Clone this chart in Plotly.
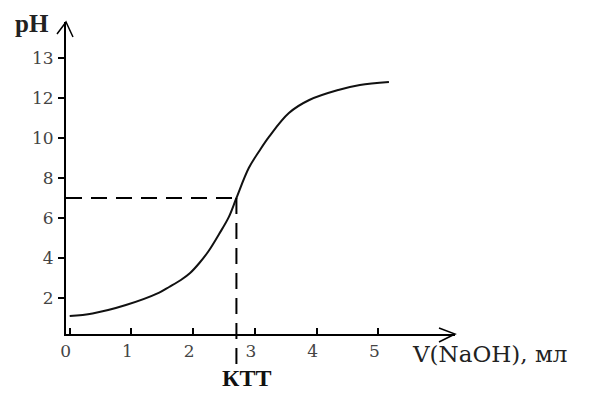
import plotly.graph_objects as go

# Titration curve data
v_naoh = [0, 0.37, 0.91, 1.45, 1.61, 1.8, 1.95, 2.1, 2.25, 2.42, 2.58, 2.7, 2.9, 3.07, 3.23, 3.55, 3.88, 4.35, 4.7, 5.17]
ph = [1.1, 1.23, 1.65, 2.27, 2.55, 2.9, 3.25, 3.75, 4.35, 5.2, 6.07, 7.0, 8.5, 9.35, 10.07, 11.25, 11.9, 12.4, 12.65, 12.8]

# equivalence point (КТТ)
v_eq = 2.7
ph_eq = 7.0

x_tickvals = [0, 1, 2, 3, 4, 5]
x_ticktext = ["0", "1", "2", "3", "4", "5"]
y_tickvals = [2, 4, 6, 8, 10, 12, 14]
y_ticktext = ["2", "4", "6", "8", "10", "12", "13"]

x_range = [-0.06, 6.24]
y_range = [0.2, 15.8]

tick_font = dict(family="DejaVu Serif", size=17, color="#444")

fig = go.Figure()
fig.add_trace(go.Scatter(
    x=v_naoh, y=ph, mode="lines",
    line=dict(color="#111", width=2, shape="spline", smoothing=1.0),
    hoverinfo="skip", showlegend=False,
))

dash = "16px,9px"
# horizontal dashed line to equivalence point
fig.add_shape(type="line", xref="x", yref="y", x0=x_range[0], x1=v_eq, y0=ph_eq, y1=ph_eq,
              line=dict(color="black", width=2, dash=dash))
# vertical dashed line down below axis
ph_eq_paper = (ph_eq - y_range[0]) / (y_range[1] - y_range[0])
fig.add_shape(type="line", xref="x", yref="paper", x0=v_eq, x1=v_eq, y0=ph_eq_paper, y1=-0.12,
              line=dict(color="black", width=2, dash=dash))

# open arrow heads on the axes
fig.add_shape(type="path", xref="paper", yref="paper", xsizemode="pixel", ysizemode="pixel",
              xanchor=0, yanchor=1,
              path="M -9,-12 L 0,0 L 7,-15", line=dict(color="black", width=1.5))
fig.add_shape(type="path", xref="paper", yref="paper", xsizemode="pixel", ysizemode="pixel",
              xanchor=1, yanchor=0,
              path="M -16,6 L 0,0 L -16,-8", line=dict(color="black", width=1.5))

fig.add_annotation(text="pH", xref="paper", yref="paper", x=-0.087, y=0.994,
                   xanchor="center", yanchor="middle", showarrow=False,
                   font=dict(family="Liberation Serif", size=25, color="#222", weight="bold"))
fig.add_annotation(text="V(NaOH), мл", xref="paper", yref="paper", x=0.885, y=-0.063,
                   xanchor="left", yanchor="middle", showarrow=False,
                   font=dict(family="DejaVu Serif", size=23, color="#222"))
fig.add_annotation(text="КТТ", xref="x", yref="paper", x=v_eq + 0.16, y=-0.14,
                   xanchor="center", yanchor="middle", showarrow=False,
                   font=dict(family="Liberation Serif", size=24, color="#111", weight="bold"))

fig.update_layout(
    width=606, height=394,
    margin=dict(l=66, r=151, t=22, b=60),
    paper_bgcolor="white", plot_bgcolor="white",
    xaxis=dict(range=x_range, tickvals=x_tickvals, ticktext=x_ticktext, showgrid=False,
               zeroline=False, showline=True, linecolor="black", linewidth=2,
               ticks="inside", ticklen=6, tickwidth=1.5, tickcolor="black",
               tickfont=tick_font, ticklabelshift=-4, ticklabelstandoff=1),
    yaxis=dict(range=y_range, tickvals=y_tickvals, ticktext=y_ticktext, showgrid=False,
               zeroline=False, showline=True, linecolor="black", linewidth=2,
               ticks="outside", ticklen=6, tickwidth=1.5, tickcolor="black",
               tickfont=tick_font, ticklabelstandoff=1),
)

fig.write_html("out.html", config={"displayModeBar": False},
               post_script="document.body.style.margin='0px';")
